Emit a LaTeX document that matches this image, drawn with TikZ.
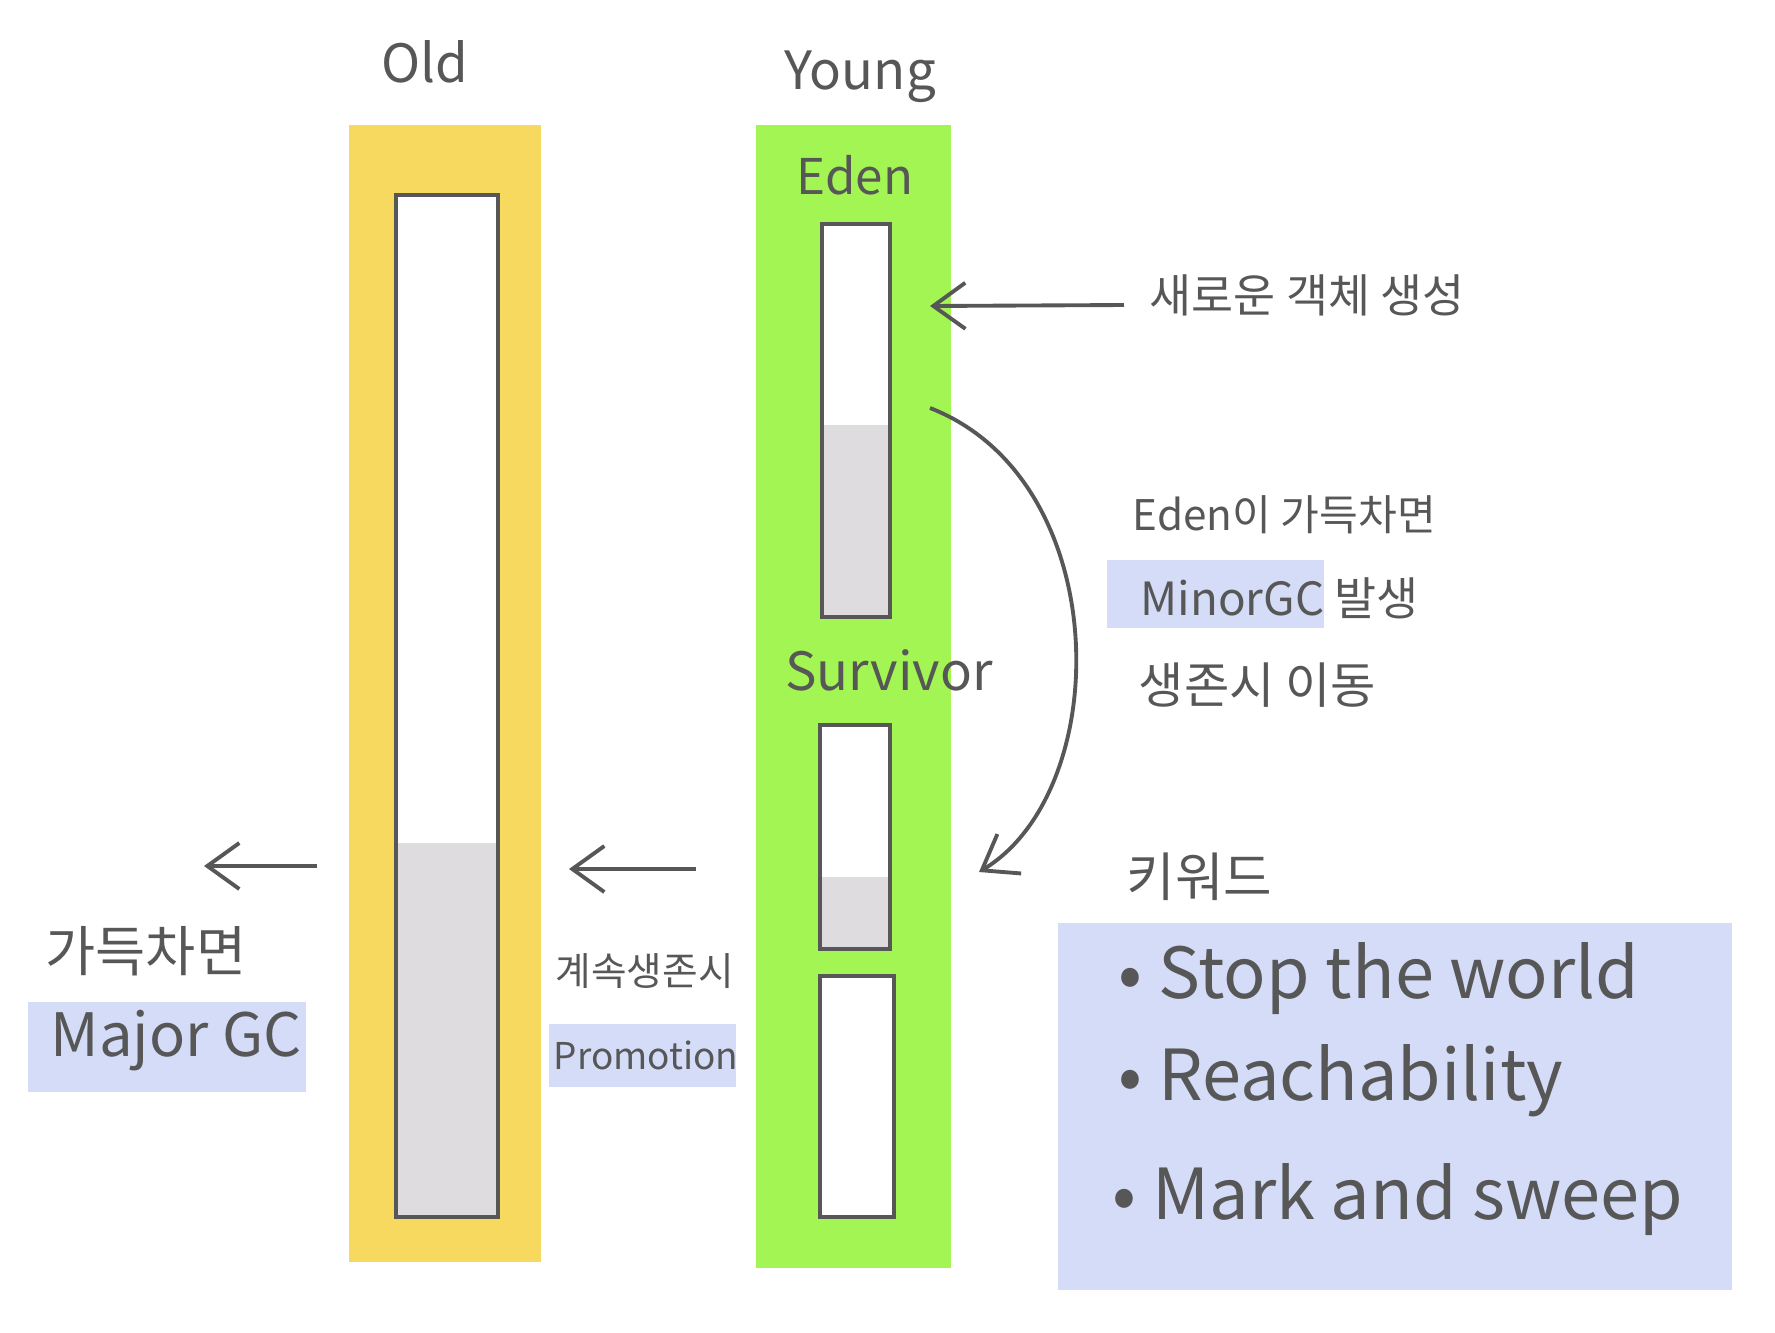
\documentclass[tikz,border=0pt]{standalone}
\usepackage{fontspec}
\setmainfont{Noto Sans CJK KR}
\usepackage{tikz}
\usetikzlibrary{arrows.meta, positioning, fit, calc, backgrounds}
\definecolor{jauneold}{HTML}{F8D960}
\definecolor{vertyoung}{HTML}{A2F552}
\definecolor{crayon}{HTML}{575757}
\definecolor{occupe}{HTML}{DEDCDE}
\definecolor{surligne}{HTML}{D4DCF8}
\tikzset{
  zone/.style={rectangle, draw=none, inner sep=0pt},
  tiroir/.style={rectangle, draw=crayon, line width=1.2pt, fill=white, inner sep=0pt},
  titre/.style={font=\fontsize{15}{18}\selectfont, text=crayon},
  note/.style={font=\fontsize{13}{16}\selectfont, text=crayon, inner sep=0pt, anchor=west},
  petit/.style={note, font=\fontsize{10.5}{13}\selectfont},
  motcle/.style={note, font=\fontsize{20}{24}\selectfont},
  marque/.style={fill=surligne, draw=none},
  fleche/.style={-{Straight Barb[length=3.2mm, width=4.6mm]}, line width=1.1pt, color=crayon}
}

\begin{document}
\begin{tikzpicture}[x=0.01cm, y=-0.01cm]
    \useasboundingbox (0, 0) rectangle (1775, 1333);

    % les deux zones du tas
    \node[zone, fill=jauneold, fit={(349, 125) (541, 1262)}] (old) {};
    \node[zone, fill=vertyoung, fit={(756, 125) (951, 1268)}] (young) {};

    \node[tiroir, fit={(396, 195) (498, 1217)}] (oldbox) {};
    \node[tiroir, fit={(822, 224) (890, 617)}] (eden) {};
    \node[tiroir, fit={(820, 725) (890, 949)}] (surva) {};
    \node[tiroir, fit={(820, 976) (894, 1217)}] (survb) {};

    \fill[occupe] (398, 843) rectangle (496, 1215);
    \fill[occupe] (824, 425) rectangle (888, 615);
    \fill[occupe] (822, 877) rectangle (888, 947);

    \node[titre] (told) at (425, 62) {Old};
    \node[titre] (tyoung) at (860, 77) {Young};
    \node[titre, font=\fontsize{14}{16}\selectfont] (teden) at (855, 175) {Eden};
    \node[titre] (tsurv) at (889, 670) {Survivor};

    % fleches
    \node[note] (nouveau) at (1149, 295) {새로운 객체 생성};
    \coordinate (edenin) at (930, 306);
    \draw[fleche] ([xshift=-2.5mm, yshift=-1mm]nouveau.west) -- (edenin);

    \coordinate (minordep) at (930, 408);
    \coordinate (minorfin) at (979, 872);
    \draw[fleche] (minordep) .. controls (1115, 480) and (1115, 790) .. (minorfin);

    \coordinate (promodep) at (696, 869);
    \coordinate (promofin) at (569, 869);
    \draw[fleche] (promodep) -- (promofin);

    \coordinate (majordep) at (317, 866);
    \coordinate (majorfin) at (204, 866);
    \draw[fleche] (majordep) -- (majorfin);

    % textes
    \fill[marque] (1107, 560) rectangle (1324, 628);
    \node[note, font=\fontsize{12}{14}\selectfont] (plein) at (1132, 515) {Eden이 가득차면};
    \node[note] (minor) at (1140, 598) {MinorGC 발생};
    \node[note, font=\fontsize{14}{16}\selectfont] (survie) at (1138, 685) {생존시 이동};

    \fill[marque] (28, 1002) rectangle (306, 1092);
    \node[note, font=\fontsize{15.5}{18}\selectfont] (pleinold) at (45, 951) {가득차면};
    \node[note, font=\fontsize{17}{20}\selectfont] (major) at (50, 1041) {Major GC};

    \fill[marque] (549, 1024) rectangle (736, 1087);
    \node[petit, font=\fontsize{11}{13}\selectfont] (continue) at (555, 971) {계속생존시};
    \node[petit] (promo) at (553, 1055) {Promotion};

    \node[note, font=\fontsize{15}{18}\selectfont] (motscles) at (1126, 877) {키워드};
    \fill[marque] (1058, 923) rectangle (1732, 1290);
    \node[motcle] (kstop) at (1118, 979) {• Stop the world};
    \node[motcle] (kreach) at (1118, 1081) {• Reachability};
    \node[motcle] (kmark) at (1112, 1200) {• Mark and sweep};
  \end{tikzpicture}
\end{document}
